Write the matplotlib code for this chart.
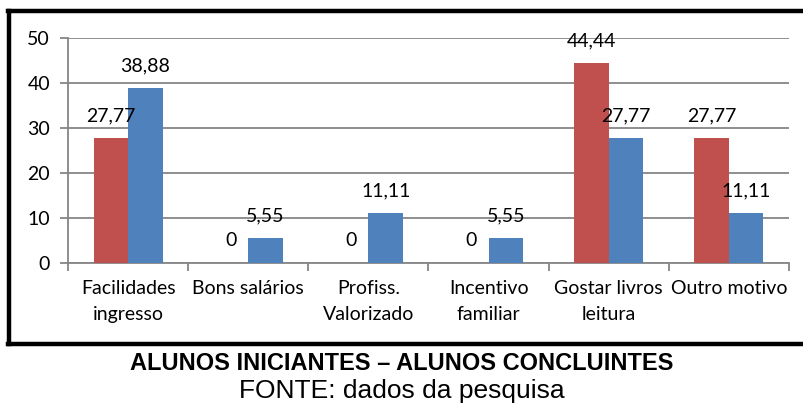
import matplotlib
matplotlib.use("Agg")
import matplotlib.pyplot as plt
from matplotlib.lines import Line2D

# Dados
categorias = ["Facilidades\ningresso", "Bons salários", "Profiss.\nValorizado",
              "Incentivo\nfamiliar", "Gostar livros\nleitura", "Outro motivo"]
iniciantes = [27.77, 0, 0, 0, 44.44, 27.77]
concluintes = [38.88, 5.55, 11.11, 5.55, 27.77, 11.11]
rotulos_ini = ["27,77", "0", "0", "0", "44,44", "27,77"]
rotulos_con = ["38,88", "5,55", "11,11", "5,55", "27,77", "11,11"]

cor_ini = "#C0504D"
cor_con = "#4F81BD"
cinza = "#868686"
fonte = "Lato"
tam = 14

fig = plt.figure(figsize=(8.04, 4.12), dpi=100)
W, H = 804, 412
ax = fig.add_axes([68 / W, 1 - 263 / H, (789 - 68) / W, (263 - 38) / H])

x = list(range(len(categorias)))
w = 0.287
ax.bar([i - w / 2 for i in x], iniciantes, width=w, color=cor_ini, zorder=3)
ax.bar([i + w / 2 for i in x], concluintes, width=w, color=cor_con, zorder=3)

# rotulos de dados
for i in x:
    ax.annotate(rotulos_ini[i], (i - w / 2, iniciantes[i]), xytext=(0, 16),
                textcoords="offset points", ha="center", va="center",
                fontsize=tam, family=fonte, color="black")
    ax.annotate(rotulos_con[i], (i + w / 2, concluintes[i]), xytext=(0, 16),
                textcoords="offset points", ha="center", va="center",
                fontsize=tam, family=fonte, color="black")

ax.set_xlim(-0.5, len(categorias) - 0.5)
ax.set_ylim(0, 50)
ax.set_yticks([0, 10, 20, 30, 40, 50])
ax.yaxis.grid(True, color=cinza, linewidth=1.3, zorder=0)
ax.set_axisbelow(True)

ax.set_xticks(x)
ax.set_xticklabels(categorias, fontsize=tam, family=fonte, linespacing=1.65)
ax.set_xticks([i - 0.5 for i in range(len(categorias) + 1)], minor=True)
ax.tick_params(axis="x", which="major", length=0, pad=12)
ax.tick_params(axis="x", which="minor", length=6, width=1.3, color=cinza)
ax.tick_params(axis="y", length=6, width=1.3, color=cinza, pad=7, labelsize=tam)
for lab in ax.get_yticklabels():
    lab.set_family(fonte)

for s in ["top", "right"]:
    ax.spines[s].set_visible(False)
for s in ["left", "bottom"]:
    ax.spines[s].set_color(cinza)
    ax.spines[s].set_linewidth(1.3)

# moldura preta
borda = dict(color="black", linewidth=3.2, transform=fig.transFigure)
fig.add_artist(Line2D([8 / W, 1], [1 - 10.5 / H, 1 - 10.5 / H], **borda))
fig.add_artist(Line2D([9.5 / W, 9.5 / W], [1 - 10.5 / H, 1 - 344 / H], **borda))
fig.add_artist(Line2D([8 / W, 1], [1 - 344 / H, 1 - 344 / H], **borda))

fig.text(0.5, 1 - 364 / H, "ALUNOS INICIANTES – ALUNOS CONCLUINTES", ha="center",
         va="center", fontsize=17, fontweight="bold", family="Liberation Sans")
fig.text(0.5, 1 - 391 / H, "FONTE: dados da pesquisa", ha="center", va="center",
         fontsize=19, family="Liberation Sans")

fig.savefig("out.png", dpi=100)
